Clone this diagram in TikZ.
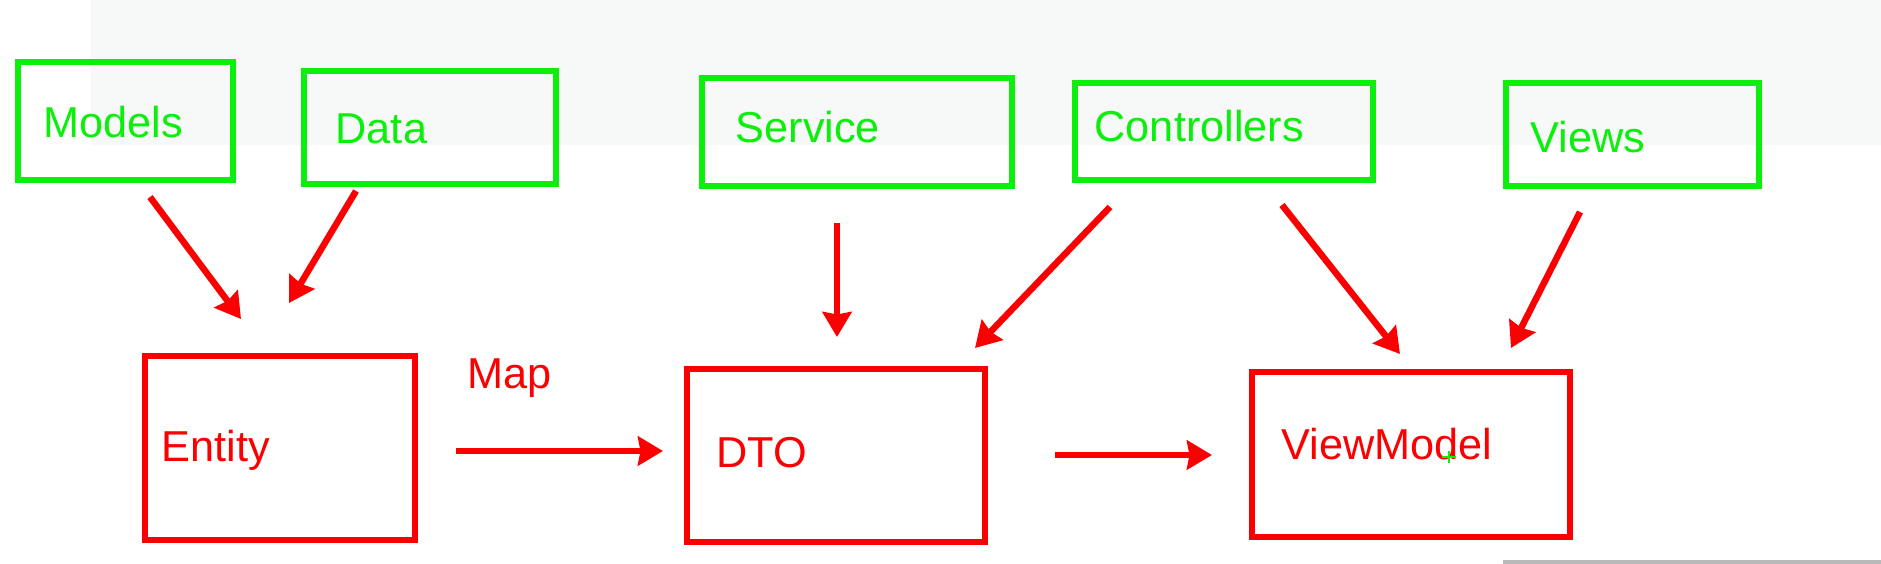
\documentclass[tikz,border=0pt]{standalone}
\usepackage{fontspec}
\setmainfont{Liberation Sans}
\usetikzlibrary{arrows.meta}
\definecolor{grn}{RGB}{10,240,10}
\definecolor{rd}{RGB}{250,0,0}
\definecolor{bgtop}{RGB}{247,248,248}
\def\lw{1.85pt}
\tikzset{
  gbox/.style={draw=grn, line width=\lw, inner sep=0pt},
  rbox/.style={draw=rd, line width=\lw, inner sep=0pt},
  gtxt/.style={text=grn, inner sep=0pt, anchor=base west, font=\fontsize{12.3pt}{14pt}\selectfont},
  rtxt/.style={gtxt, text=rd},
  arr/.style={draw=rd, line width=\lw, -{Stealth[length=0.25cm, width=0.29cm, inset=0.025cm]}}
}
\begin{document}
\begin{tikzpicture}[x=0.01cm, y=-0.01cm]
\useasboundingbox (0,0) rectangle (1881,564);
\fill[bgtop] (91,0) rectangle (1881,145);
\fill[gray!55] (1503,560) rectangle (1881,564);

% top row
\node[gbox, minimum width=2.145cm, minimum height=1.175cm] (models) at (125.5,121) {};
\node[gbox, minimum width=2.515cm, minimum height=1.125cm] (data) at (430,127.5) {};
\node[gbox, minimum width=3.095cm, minimum height=1.075cm] (service) at (857,132) {};
\node[gbox, minimum width=2.975cm, minimum height=0.965cm] (controllers) at (1224,131.5) {};
\node[gbox, minimum width=2.525cm, minimum height=1.025cm] (views) at (1632.5,134.5) {};
\node[gtxt] (models-t) at (43,138) {Models};
\node[gtxt] (data-t) at (335,144) {Data};
\node[gtxt] (service-t) at (735,143) {Service};
\node[gtxt] (controllers-t) at (1094,142) {Controllers};
\node[gtxt] (views-t) at (1530,153) {Views};

% bottom row
\node[rbox, minimum width=2.695cm, minimum height=1.835cm] (entity) at (280,448) {};
\node[rbox, minimum width=2.975cm, minimum height=1.725cm] (dto) at (836,455.5) {};
\node[rbox, minimum width=3.175cm, minimum height=1.645cm] (viewmodel) at (1411,454.5) {};
\node[rtxt] (entity-t) at (161,461) {Entity};
\node[rtxt] (map-t) at (467,389) {Map};
\node[rtxt] (dto-t) at (716,467) {DTO};
\node[rtxt] (viewmodel-t) at (1281,459) {ViewModel};
\draw[grn, line width=0.6pt] (1442,457) -- (1456,457) (1449,451) -- (1449,463);

% arrow ends
\coordinate (mdl1) at (150,197);
\coordinate (mdl2) at (241,319);
\coordinate (dat1) at (356,191);
\coordinate (dat2) at (289,303);
\coordinate (srv1) at (837,223);
\coordinate (srv2) at (837,337);
\coordinate (ctl1) at (1110,207);
\coordinate (ctl2) at (975,348);
\coordinate (ctl3) at (1282,205);
\coordinate (ctl4) at (1400,354);
\coordinate (vw1) at (1580,212);
\coordinate (vw2) at (1511,348);
\coordinate (map1) at (456,451);
\coordinate (map2) at (663,451);
\coordinate (vm1) at (1055,455);
\coordinate (vm2) at (1212,455);

\foreach \s/\e in {mdl1/mdl2, dat1/dat2, srv1/srv2, ctl1/ctl2, ctl3/ctl4, vw1/vw2, map1/map2, vm1/vm2}{
	\draw[arr] (\s) -- (\e);
}
\end{tikzpicture}
\end{document}
